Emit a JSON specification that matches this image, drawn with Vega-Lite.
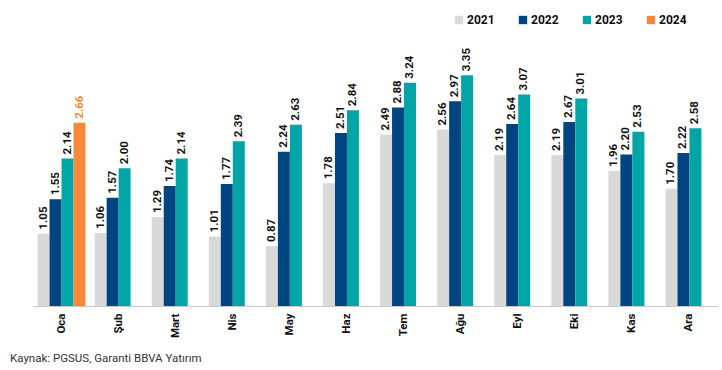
{
  "$schema": "https://vega.github.io/schema/vega-lite/v6.json",
  "autosize": {"type": "none"},
  "width": 685,
  "height": 266,
  "padding": {"left": 33, "top": 40, "right": 4, "bottom": 64},
  "background": "white",
  "config": {"view": {"stroke": null}, "font": "Roboto"},
  "title": {
    "text": "Kaynak: PGSUS, Garanti BBVA Yatırım",
    "orient": "bottom",
    "anchor": "start",
    "frame": "group",
    "dx": -23,
    "offset": 15,
    "fontSize": 11.5,
    "fontWeight": "normal",
    "color": "#333333",
    "font": "Roboto"
  },
  "data": {
    "values": [
      {"month": "Oca", "year": "2021", "value": 1.05},
      {"month": "Oca", "year": "2022", "value": 1.55},
      {"month": "Oca", "year": "2023", "value": 2.14},
      {"month": "Oca", "year": "2024", "value": 2.66},
      {"month": "Şub", "year": "2021", "value": 1.06},
      {"month": "Şub", "year": "2022", "value": 1.57},
      {"month": "Şub", "year": "2023", "value": 2.00},
      {"month": "Mart", "year": "2021", "value": 1.29},
      {"month": "Mart", "year": "2022", "value": 1.74},
      {"month": "Mart", "year": "2023", "value": 2.14},
      {"month": "Nis", "year": "2021", "value": 1.01},
      {"month": "Nis", "year": "2022", "value": 1.77},
      {"month": "Nis", "year": "2023", "value": 2.39},
      {"month": "May", "year": "2021", "value": 0.87},
      {"month": "May", "year": "2022", "value": 2.24},
      {"month": "May", "year": "2023", "value": 2.63},
      {"month": "Haz", "year": "2021", "value": 1.78},
      {"month": "Haz", "year": "2022", "value": 2.51},
      {"month": "Haz", "year": "2023", "value": 2.84},
      {"month": "Tem", "year": "2021", "value": 2.49},
      {"month": "Tem", "year": "2022", "value": 2.88},
      {"month": "Tem", "year": "2023", "value": 3.24},
      {"month": "Ağu", "year": "2021", "value": 2.56},
      {"month": "Ağu", "year": "2022", "value": 2.97},
      {"month": "Ağu", "year": "2023", "value": 3.35},
      {"month": "Eyl", "year": "2021", "value": 2.19},
      {"month": "Eyl", "year": "2022", "value": 2.64},
      {"month": "Eyl", "year": "2023", "value": 3.07},
      {"month": "Eki", "year": "2021", "value": 2.19},
      {"month": "Eki", "year": "2022", "value": 2.67},
      {"month": "Eki", "year": "2023", "value": 3.01},
      {"month": "Kas", "year": "2021", "value": 1.96},
      {"month": "Kas", "year": "2022", "value": 2.20},
      {"month": "Kas", "year": "2023", "value": 2.53},
      {"month": "Ara", "year": "2021", "value": 1.70},
      {"month": "Ara", "year": "2022", "value": 2.22},
      {"month": "Ara", "year": "2023", "value": 2.58}
    ]
  },
  "encoding": {
    "x": {
      "field": "month",
      "type": "nominal",
      "sort": ["Oca", "Şub", "Mart", "Nis", "May", "Haz", "Tem", "Ağu", "Eyl", "Eki", "Kas", "Ara"],
      "scale": {"paddingInner": 0.16, "paddingOuter": 0.08},
      "axis": {
        "title": null,
        "labelAngle": -90,
        "labelFont": "Roboto",
        "labelFontSize": 11.5,
        "labelFontWeight": "bold",
        "labelColor": "#111111",
        "labelPadding": 7,
        "ticks": false,
        "domainColor": "#c8c8c8",
        "domainWidth": 1
      }
    },
    "xOffset": {
      "field": "year",
      "type": "nominal",
      "scale": {"domain": ["2021", "2022", "2023", "2024"], "paddingInner": 0, "paddingOuter": 0}
    },
    "y": {
      "field": "value",
      "type": "quantitative",
      "scale": {"domain": [0, 3.86], "nice": false},
      "axis": null
    }
  },
  "layer": [
    {
      "mark": {"type": "bar"},
      "encoding": {
        "color": {
          "field": "year",
          "type": "nominal",
          "scale": {"domain": ["2021", "2022", "2023", "2024"], "range": ["#d9d9d9", "#004481", "#02a5a5", "#f7893b"]},
          "legend": {
            "title": null,
            "orient": "none",
            "direction": "horizontal",
            "legendX": 420,
            "legendY": -26,
            "symbolType": "square",
            "symbolSize": 70,
            "symbolStrokeWidth": 0,
            "labelFont": "Roboto",
            "labelFontSize": 12,
            "labelFontWeight": "bold",
            "labelColor": "#111111",
            "labelOffset": 2,
            "columnPadding": 22
          }
        }
      }
    },
    {
      "mark": {"type": "text", "angle": -90, "align": "left", "baseline": "middle", "dx": 4, "fontSize": 11.5, "fontWeight": "bold", "font": "Roboto"},
      "encoding": {
        "text": {"field": "value", "type": "quantitative", "format": ".2f"},
        "color": {
          "condition": {"test": "datum.year == '2024'", "value": "#f7893b"},
          "value": "#111111"
        }
      }
    }
  ]
}
